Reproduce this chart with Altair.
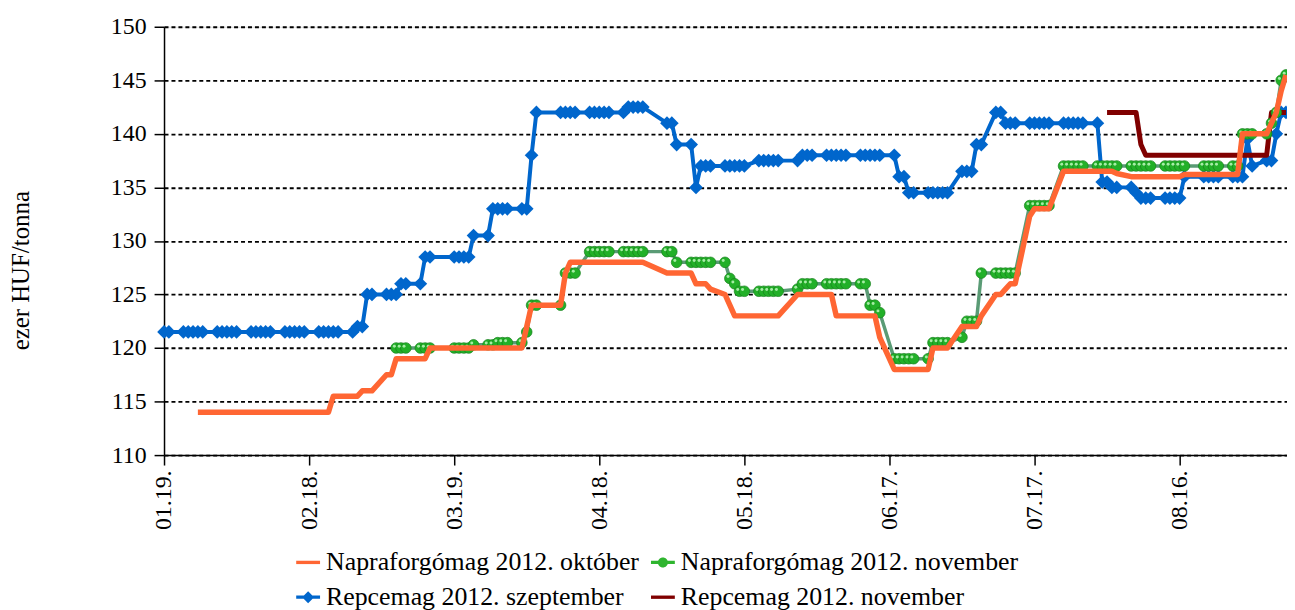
import altair as alt
import pandas as pd

YEAR = 2012

# trading days (MM-DD), one line per month
trading_days = [
    "01-19", "01-20", "01-23", "01-24", "01-25", "01-26", "01-27", "01-30", "01-31",
    "02-01", "02-02", "02-03", "02-06", "02-07", "02-08", "02-09", "02-10", "02-13", "02-14", "02-15", "02-16", "02-17", "02-20", "02-21", "02-22", "02-23", "02-24", "02-27", "02-28", "02-29",
    "03-01", "03-02", "03-05", "03-06", "03-07", "03-08", "03-09", "03-12", "03-13", "03-14", "03-19", "03-20", "03-21", "03-22", "03-23", "03-26", "03-27", "03-28", "03-29", "03-30",
    "04-02", "04-03", "04-04", "04-05", "04-10", "04-11", "04-12", "04-13", "04-16", "04-17", "04-18", "04-19", "04-20", "04-23", "04-24", "04-25", "04-26", "04-27",
    "05-02", "05-03", "05-04", "05-07", "05-08", "05-09", "05-10", "05-11", "05-14", "05-15", "05-16", "05-17", "05-18", "05-21", "05-22", "05-23", "05-24", "05-25", "05-29", "05-30", "05-31",
    "06-01", "06-04", "06-05", "06-06", "06-07", "06-08", "06-11", "06-12", "06-13", "06-14", "06-15", "06-18", "06-19", "06-20", "06-21", "06-22", "06-25", "06-26", "06-27", "06-28", "06-29",
    "07-02", "07-03", "07-04", "07-05", "07-06", "07-09", "07-10", "07-11", "07-12", "07-13", "07-16", "07-17", "07-18", "07-19", "07-20", "07-23", "07-24", "07-25", "07-26", "07-27", "07-30", "07-31",
    "08-01", "08-02", "08-03", "08-06", "08-07", "08-08", "08-09", "08-10", "08-13", "08-14", "08-15", "08-16", "08-17", "08-21", "08-22", "08-23", "08-24", "08-27", "08-28", "08-29", "08-30", "08-31",
    "09-03", "09-04", "09-05", "09-06", "09-07",
]

N = None

# Napraforgómag 2012. október
orange_vals = [
    N, N, N, N, N, 114, 114, 114, 114,
    114, 114, 114, 114, 114, 114, 114, 114, 114, 114, 114, 114, 114, 114, 114, 114, 115.5, 115.5, 115.5, 115.5, 116,
    116, 116, 117.5, 117.5, 119, 119, 119, 119, 119, 120, 120, 120, 120, 120, 120, 120, 120, 120, 120, 120,
    120, 122, 124, 124, 124, 127, 128, 128, 128, 128, 128, 128, 128, 128, 128, 128, 128, 128,
    127, 127, 127, 127, 126, 126, 126, 125.5, 125, 124, 123, 123, 123, 123, 123, 123, 123, 123, 125, 125, 125,
    125, 125, 125, 123, 123, 123, 123, 123, 123, 123, 121, 118, 118, 118, 118, 118, 118, 120, 120, 120, 120,
    122, 122, 122, 122, 123, 125, 125, 125.5, 126, 126, 132.3, 133, 133, 133, 133, 136.5, 136.5, 136.5, 136.5, 136.5, 136.5, 136.5,
    136.5, 136.5, 136.3, 136, 136, 136, 136, 136, 136, 136, 136, 136, 136.2, 136.2, 136.2, 136.2, 136.2, 136.2, 136.2, 140, 140, 140,
    140, 141, 142, 144, 145.5,
]

# Napraforgómag 2012. november
green_vals = [
    N, N, N, N, N, N, N, N, N,
    N, N, N, N, N, N, N, N, N, N, N, N, N, N, N, N, N, N, N, N, N,
    N, N, N, N, 120, 120, 120, 120, 120, 120, 120, 120, 120, 120, 120.3, 120.3, 120.3, 120.5, 120.5, 120.5,
    120.5, 121.5, 124, 124, 124, 127, 127, 127, 129, 129, 129, 129, 129, 129, 129, 129, 129, 129,
    129, 129, 128, 128, 128, 128, 128, 128, 128, 126.5, 126, 125.3, 125.3, 125.3, 125.3, 125.3, 125.3, 125.3, 125.5, 126, 126,
    126, 126, 126, 126, 126, 126, 126, 126, 124, 124, 123.3, 119, 119, 119, 119, 119, 119, 120.5, 120.5, 120.5, 120.5,
    121, 122.5, 122.5, 122.5, 127, 127, 127, 127, 127, 127, 133.3, 133.3, 133.3, 133.3, 133.3, 137, 137, 137, 137, 137, 137, 137,
    137, 137, 137, 137, 137, 137, 137, 137, 137, 137, 137, 137, 137, 137, 137, 137, 137, 137, 137, 140, 140, 140,
    140, 141, 142, 145, 145.5,
]

# Repcemag 2012. szeptember
blue_vals = [
    121.5, 121.5, 121.5, 121.5, 121.5, 121.5, 121.5, 121.5, 121.5,
    121.5, 121.5, 121.5, 121.5, 121.5, 121.5, 121.5, 121.5, 121.5, 121.5, 121.5, 121.5, 121.5, 121.5, 121.5, 121.5, 121.5, 121.5, 121.5, 122, 122,
    125, 125, 125, 125, 125, 126, 126, 126, 128.5, 128.5, 128.5, 128.5, 128.5, 128.5, 130.5, 130.5, 133, 133, 133, 133,
    133, 133, 138, 142, 142, 142, 142, 142, 142, 142, 142, 142, 142, 142, 142.5, 142.5, 142.5, 142.5,
    141, 141, 139, 139, 135, 137, 137, 137, 137, 137, 137, 137, 137, 137.5, 137.5, 137.5, 137.5, 137.5, 137.5, 138, 138,
    138, 138, 138, 138, 138, 138, 138, 138, 138, 138, 138, 138, 136, 136, 134.5, 134.5, 134.5, 134.5, 134.5, 134.5, 134.5,
    136.5, 136.5, 136.5, 139, 139, 142, 142, 141, 141, 141, 141, 141, 141, 141, 141, 141, 141, 141, 141, 141, 141, 135.5,
    135.5, 135, 135, 135, 134.5, 134, 134, 134, 134, 134, 134, 134, 136, 136, 136, 136, 136, 136, 136, 136, 139.5, 137,
    137.5, 137.5, 140, 142, 142,
]

# Repcemag 2012. november
red_vals = [
    N, N, N, N, N, N, N, N, N,
    N, N, N, N, N, N, N, N, N, N, N, N, N, N, N, N, N, N, N, N, N,
    N, N, N, N, N, N, N, N, N, N, N, N, N, N, N, N, N, N, N, N,
    N, N, N, N, N, N, N, N, N, N, N, N, N, N, N, N, N, N,
    N, N, N, N, N, N, N, N, N, N, N, N, N, N, N, N, N, N, N, N, N,
    N, N, N, N, N, N, N, N, N, N, N, N, N, N, N, N, N, N, N, N, N,
    N, N, N, N, N, N, N, N, N, N, N, N, N, N, N, N, N, N, N, N, N, N,
    142, 142, 142, 142, 142, 139, 138, 138, 138, 138, 138, 138, 138, 138, 138, 138, 138, 138, 138, 138, 138, 138,
    138, 142, 142, 142, 142,
]

series_names = [
    "Napraforgómag 2012. október",
    "Napraforgómag 2012. november",
    "Repcemag 2012. szeptember",
    "Repcemag 2012. november",
]
series_colors = ["#ff6633", "#2fb52f", "#0066cc", "#800000"]

tick_days = ["01-19", "02-18", "03-19", "04-18", "05-18", "06-17", "07-17", "08-16"]
y_ticks = [110, 115, 120, 125, 130, 135, 140, 145, 150]
x_start, x_end = "2012-01-19T00:00:00", "2012-09-07T05:00:00"

for arr in (orange_vals, green_vals, blue_vals, red_vals):
    assert len(arr) == len(trading_days), len(arr)


def series_df(vals):
    rows = [(pd.Timestamp(f"{YEAR}-{d}"), v) for d, v in zip(trading_days, vals) if v is not None]
    return pd.DataFrame(rows, columns=["date", "value"])


FONT = "Liberation Serif, Times New Roman, DejaVu Serif, serif"

x_enc = alt.X(
    "date:T",
    scale=alt.Scale(domain=[x_start, x_end]),
    axis=alt.Axis(
        values=[alt.DateTime(year=YEAR, month=int(d[:2]), date=int(d[3:])) for d in tick_days],
        format="%m.%d.",
        labelAngle=270,
        grid=False,
        title=None,
        labelFont=FONT,
        labelFontSize=24,
        labelColor="black",
        labelPadding=5,
        domainColor="black",
        domainWidth=1.5,
        tickColor="black",
        tickWidth=1.5,
        tickSize=10,
    ),
)
y_enc = alt.Y(
    "value:Q",
    scale=alt.Scale(domain=[110, 150], nice=False, zero=False),
    axis=alt.Axis(
        values=y_ticks,
        grid=True,
        gridColor="black",
        gridDash=[4, 3],
        gridWidth=1.9,
        title="ezer HUF/tonna",
        titleFont=FONT,
        titleFontSize=25,
        titleFontWeight="normal",
        titleColor="black",
        titleAngle=270,
        titleBaseline="alphabetic",
        titleX=-136,
        titleY=245,
        labelFont=FONT,
        labelFontSize=24,
        labelColor="black",
        labelPadding=8,
        domainColor="black",
        domainWidth=1.5,
        tickColor="black",
        tickWidth=1.5,
        tickSize=10,
    ),
)

df_orange = series_df(orange_vals)
df_green = series_df(green_vals)
df_blue = series_df(blue_vals)
df_red = series_df(red_vals)

blue_line = alt.Chart(df_blue).mark_line(color="#0066cc", strokeWidth=4, strokeJoin="round").encode(x=x_enc, y=y_enc)
blue_pts = alt.Chart(df_blue).mark_point(shape="diamond", filled=True, size=190, color="#0066cc", opacity=1).encode(x=x_enc, y=y_enc)
red_line = alt.Chart(df_red).mark_line(color="#800000", strokeWidth=5, strokeJoin="round").encode(x=x_enc, y=y_enc)
green_line = alt.Chart(df_green).mark_line(color="#5a9b75", strokeWidth=3.5, strokeJoin="round").encode(x=x_enc, y=y_enc)
green_pts = alt.Chart(df_green).mark_point(
    shape="circle", filled=True, size=115, color="#22b028", stroke="#17801d", strokeWidth=0.7, opacity=1
).encode(x=x_enc, y=y_enc)
green_hi = alt.Chart(df_green).mark_point(
    shape="circle", filled=True, size=9, color="#a6eca6", opacity=1, xOffset=-1.8, yOffset=-1.8
).encode(x=x_enc, y=y_enc)
orange_line = alt.Chart(df_orange).mark_line(color="#ff6633", strokeWidth=5.5, strokeJoin="round").encode(x=x_enc, y=y_enc)

bar = "M-1,-0.14L1,-0.14L1,0.14L-1,0.14Z"
legend_shapes = [
    bar,
    bar + " M-0.42,0A0.42,0.42 0 1,1 0.42,0A0.42,0.42 0 1,1 -0.42,0Z",
    bar + " M0,-0.5L0.5,0L0,0.5L-0.5,0Z",
    bar,
]


def make_legend():
    return alt.Legend(
        orient="none",
        legendX=132,
        legendY=526,
        columns=2,
        direction="horizontal",
        title=None,
        labelFont=FONT,
        labelFontSize=26,
        labelColor="black",
        labelLimit=600,
        labelOffset=5,
        symbolSize=576,
        symbolStrokeWidth=0,
        columnPadding=10,
        rowPadding=9,
        padding=0,
    )


legend_df = pd.DataFrame({"series": series_names})
legend_layer = (
    alt.Chart(legend_df)
    .transform_filter("false")
    .mark_point(filled=True, opacity=1)
    .encode(
        color=alt.Color("series:N", scale=alt.Scale(domain=series_names, range=series_colors), legend=make_legend()),
        shape=alt.Shape("series:N", scale=alt.Scale(domain=series_names, range=legend_shapes), legend=make_legend()),
    )
)

chart = (
    alt.layer(blue_line, blue_pts, red_line, green_line, green_pts, green_hi, orange_line, legend_layer)
    .properties(
        width=1130,
        height=431,
        padding={"left": 157, "top": 17, "right": 0, "bottom": 154},
        autosize=alt.AutoSizeParams(type="none"),
    )
    .configure_view(stroke=None)
    .configure(background="white")
)

chart.save("out.html", embed_options={"renderer": "svg", "actions": False})
